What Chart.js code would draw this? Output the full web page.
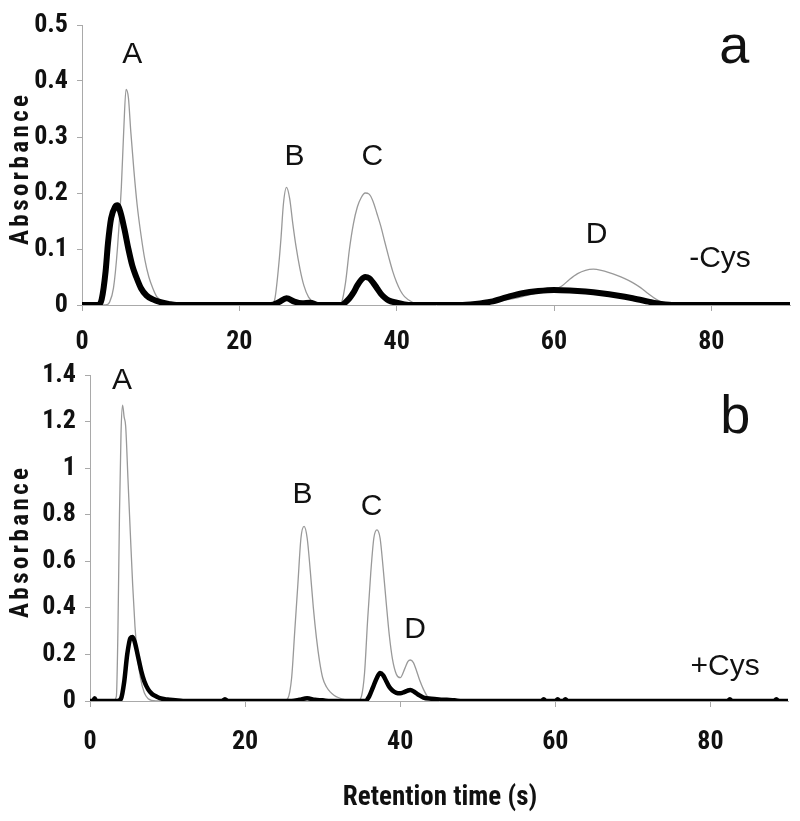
<!DOCTYPE html>
<html><head><meta charset="utf-8">
<script src="https://cdn.jsdelivr.net/npm/chart.js@4.4.1/dist/chart.umd.min.js"></script>
<style>
html,body{margin:0;padding:0;background:#fff;}
#wrap{position:relative;width:800px;height:821px;overflow:hidden;}
.box{position:absolute;left:0;width:800px;}
</style></head><body>
<div id="wrap">
<div class="box" style="top:0;height:370px"><canvas id="top" width="800" height="370"></canvas></div>
<div class="box" style="top:345px;height:476px"><canvas id="bot" width="800" height="476"></canvas></div>
</div>
<script>
// ---------- data (retention time s, absorbance) ----------
const xTicks = [0, 20, 40, 60, 80];
const xTickLabels = ['0', '20', '40', '60', '80'];
const topYTicks = [0, 0.1, 0.2, 0.3, 0.4, 0.5];
const topYTickLabels = ['0', '0.1', '0.2', '0.3', '0.4', '0.5'];
const botYTicks = [0, 0.2, 0.4, 0.6, 0.8, 1, 1.2, 1.4];
const botYTickLabels = ['0', '0.2', '0.4', '0.6', '0.8', '1', '1.2', '1.4'];

// panel a (-Cys): thick black trace
const topBlack = [[0,0],[2.0,0],[2.5,0.01],[3.0,0.06],[3.3,0.11],[3.7,0.155],[4.2,0.175],[4.5,0.178],[4.9,0.165],[5.4,0.135],[5.9,0.10],[6.4,0.07],[6.9,0.05],[7.5,0.03],[8.2,0.017],[9.0,0.01],[10,0.005],[11,0.002],[12,0],
 [24,0],[25,0.005],[26,0.012],[27,0.006],[28,0.003],[29,0.004],[30,0],
 [33,0],[33.5,0.005],[34,0.012],[34.5,0.022],[35,0.035],[35.5,0.045],[36,0.05],[36.5,0.048],[37,0.04],[37.5,0.03],[38,0.02],[38.5,0.013],[39,0.008],[40,0.004],[41,0.001],[42,0],
 [48,0],[50,0.002],[52,0.006],[54,0.014],[56,0.021],[58,0.025],[60,0.027],[62,0.026],[64,0.024],[66,0.021],[68,0.017],[70,0.012],[72,0.006],[73,0.003],[75,0],[90,0]];
// panel a (-Cys): thin grey trace
const topGrey = [[0,0],[3.0,0],[3.5,0.005],[4.0,0.03],[4.5,0.10],[5.0,0.21],[5.3,0.31],[5.6,0.385],[5.9,0.37],[6.2,0.31],[6.6,0.24],[7.0,0.18],[7.5,0.125],[8.0,0.08],[8.5,0.05],[9.0,0.03],[9.5,0.015],[10.5,0.005],[11.5,0],
 [24.0,0],[24.5,0.01],[25.0,0.07],[25.3,0.12],[25.6,0.18],[26.0,0.21],[26.4,0.19],[26.8,0.145],[27.2,0.105],[27.7,0.065],[28.2,0.035],[28.8,0.014],[29.5,0.004],[30.5,0],
 [32.5,0],[33.0,0.005],[33.5,0.04],[34.0,0.10],[34.5,0.145],[35.0,0.175],[35.5,0.192],[36.0,0.2],[36.5,0.198],[37.0,0.185],[37.5,0.163],[38.0,0.14],[38.5,0.112],[39.0,0.085],[39.5,0.06],[40.0,0.04],[40.5,0.025],[41.0,0.015],[42.0,0.005],[43.0,0],
 [48,0],[52,0.005],[55,0.012],[58,0.022],[60,0.028],[61,0.034],[62,0.046],[63,0.056],[64,0.062],[65,0.064],[66,0.062],[67,0.058],[68,0.053],[69,0.047],[70,0.04],[71,0.031],[72,0.02],[73,0.01],[74,0.003],[75,0],[90,0]];

// panel b (+Cys): thick black trace
const botBlack = [[0,0],[0.4,0],[0.6,0.012],[0.8,0],[3.5,0],[4.0,0.01],[4.4,0.08],[4.8,0.2],[5.2,0.27],[5.5,0.275],[5.8,0.25],[6.2,0.19],[6.6,0.13],[7.0,0.085],[7.5,0.05],[8.0,0.03],[8.5,0.02],[9.0,0.012],[10,0.006],[11,0.003],[12,0],
 [17.0,0],[17.4,0.008],[17.8,0],
 [26,0],[27,0.005],[28,0.012],[29,0.005],[30,0.003],[31,0],
 [35.5,0],[36,0.02],[36.5,0.06],[37,0.1],[37.4,0.12],[37.8,0.11],[38.2,0.085],[38.6,0.06],[39,0.045],[39.5,0.035],[40,0.033],[40.5,0.038],[41,0.045],[41.3,0.047],[41.8,0.04],[42.3,0.028],[43,0.015],[44,0.01],[45,0.007],[46,0.005],[47,0.003],[48,0],
 [58.2,0],[58.5,0.008],[58.8,0],[60.0,0],[60.3,0.008],[60.6,0],[61.0,0],[61.3,0.008],[61.6,0],[82.2,0],[82.5,0.008],[82.8,0],[88.2,0],[88.5,0.008],[88.8,0],[90,0]];
// panel b (+Cys): thin grey trace
const botGrey = [[0,0],[3.0,0],[3.4,0.02],[3.6,0.3],[3.8,0.8],[4.0,1.15],[4.2,1.27],[4.4,1.22],[4.6,1.18],[4.9,0.95],[5.2,0.72],[5.5,0.5],[5.8,0.32],[6.1,0.2],[6.5,0.1],[7.0,0.035],[7.5,0.01],[8.5,0],
 [25.0,0],[25.5,0.01],[26.0,0.1],[26.4,0.3],[26.8,0.5],[27.2,0.7],[27.6,0.75],[28.0,0.7],[28.4,0.56],[28.8,0.4],[29.2,0.27],[29.6,0.17],[30.0,0.1],[30.5,0.06],[31.0,0.038],[31.5,0.024],[32,0.015],[33,0.005],[34,0],
 [34.5,0],[35.0,0.02],[35.4,0.12],[35.8,0.35],[36.2,0.55],[36.6,0.7],[37.0,0.735],[37.4,0.7],[37.8,0.57],[38.2,0.42],[38.6,0.28],[39.0,0.18],[39.5,0.115],[40.0,0.1],[40.6,0.14],[41.0,0.17],[41.3,0.176],[41.7,0.165],[42.1,0.13],[42.5,0.09],[43.0,0.05],[43.5,0.02],[44,0.008],[45,0],[90,0]];

// text annotations: [text, x (s), y (absorbance, baseline), kind]
const topNotes = [['A',6.4,0.432,'peak'],['B',27.0,0.25,'peak'],['C',36.9,0.25,'peak'],['D',65.4,0.111,'peak'],['-Cys',81.1,0.068,'peak'],['a',82.9,0.432,'panel']];
const botNotes = [['A',4.13,1.338,'peak'],['B',27.4,0.852,'peak'],['C',36.3,0.80,'peak'],['D',41.9,0.271,'peak'],['+Cys',81.9,0.112,'peak'],['b',83.2,1.153,'panel']];

// ---------- rendering ----------
const BOLDFAM = "'Roboto Condensed','Liberation Sans Narrow','Liberation Sans',Arial,sans-serif";
const REG = "'Liberation Sans',Arial,sans-serif";
Chart.defaults.font.family = BOLDFAM;
Chart.defaults.font.size = 26;
Chart.defaults.font.weight = 'bold';
Chart.defaults.color = '#111';
const tickFont = () => ({family: BOLDFAM, size: 26, weight: 'bold', lineHeight: 1.2});
const axisGrey = '#a9a9a9';

const textPlugin = {
  id: 'texts',
  afterDraw(chart, args, opts) {
    const ctx = chart.ctx, xs = chart.scales.x, ys = chart.scales.y, ca = chart.chartArea;
    ctx.save();
    ctx.fillStyle = '#111';
    ctx.textAlign = 'center';
    ctx.textBaseline = 'alphabetic';
    for (const [t, x, y, kind] of opts.notes) {
      ctx.font = (kind === 'panel' ? '54px ' : '30px ') + REG;
      ctx.fillText(t, xs.getPixelForValue(x), ys.getPixelForValue(y));
    }
    // y axis title
    ctx.save();
    ctx.font = 'bold 25px ' + BOLDFAM;
    const sp = Math.max(0, (150 - ctx.measureText('Absorbance').width) / 9);
    ctx.letterSpacing = sp + 'px';
    ctx.textBaseline = 'middle';
    ctx.translate(22, (ca.top + ca.bottom) / 2 + 5);
    ctx.rotate(-Math.PI / 2);
    ctx.fillText('Absorbance', sp / 2, 0);
    ctx.restore();
    if (opts.xTitle) {
      ctx.font = 'bold 27px ' + BOLDFAM;
      ctx.textBaseline = 'alphabetic';
      ctx.fillText(opts.xTitle, 440, opts.xTitleY);
    }
    ctx.restore();
  }
};

function makeChart(id, black, grey, blackW, yTicks, yLabels, yMax, cfg) {
  return new Chart(document.getElementById(id), {
    type: 'line',
    data: {
      datasets: [
        {data: black.map(p => ({x: p[0], y: p[1]})), borderColor: '#000', borderWidth: blackW, pointRadius: 0, cubicInterpolationMode: 'monotone', fill: false},
        {data: grey.map(p => ({x: p[0], y: p[1]})), borderColor: '#999', borderWidth: 1.3, pointRadius: 0, cubicInterpolationMode: 'monotone', fill: false}
      ]
    },
    options: {
      responsive: false, animation: false,
      layout: {padding: {top: cfg.padTop, right: cfg.padRight, left: 0, bottom: 0}},
      plugins: {legend: {display: false}, tooltip: {enabled: false}, texts: {notes: cfg.notes, xTitle: cfg.xTitle, xTitleY: cfg.xTitleY}},
      scales: {
        x: {
          type: 'linear', min: 0, max: 90,
          afterFit: s => { s.height = cfg.xHeight; },
          afterBuildTicks: s => { s.ticks = xTicks.map(v => ({value: v})); },
          ticks: {font: tickFont(), color: '#111', padding: cfg.xPad, maxRotation: 0, autoSkip: false,
                  callback: (v, i) => xTickLabels[i]},
          grid: {drawOnChartArea: false, drawTicks: true, tickLength: 6, color: axisGrey, lineWidth: 1},
          border: {display: true, color: axisGrey, width: 1}
        },
        y: {
          type: 'linear', min: 0, max: yMax,
          afterFit: s => { s.width = cfg.left; },
          afterBuildTicks: s => { s.ticks = yTicks.map(v => ({value: v})); },
          ticks: {font: tickFont(), color: '#111', padding: 9, autoSkip: false,
                  callback: (v, i) => yLabels[i]},
          grid: {drawOnChartArea: false, drawTicks: true, tickLength: 5, color: axisGrey, lineWidth: 1},
          border: {display: true, color: axisGrey, width: 1}
        }
      }
    },
    plugins: [textPlugin]
  });
}

makeChart('top', topBlack, topGrey, 6, topYTicks, topYTickLabels, 0.5,
  {padTop: 25, padRight: 10, left: 82, xHeight: 65, xPad: 16, notes: topNotes});
makeChart('bot', botBlack, botGrey, 4.5, botYTicks, botYTickLabels, 1.4,
  {padTop: 30, padRight: 12, left: 90, xHeight: 120, xPad: 20, notes: botNotes, xTitle: 'Retention time (s)', xTitleY: 460});
</script>
</body></html>
